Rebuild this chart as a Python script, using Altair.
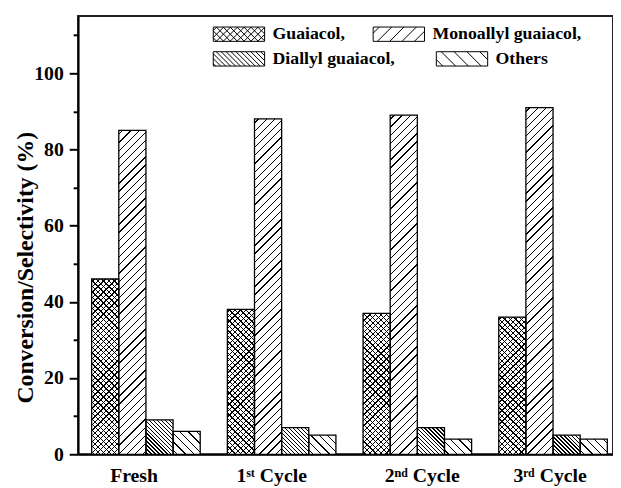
import altair as alt
import pandas as pd

# ---------------- data ----------------
categories = ["Fresh", "1ˢᵗ Cycle", "2ⁿᵈ Cycle", "3ʳᵈ Cycle"]
series_names = ["Guaiacol,", "Monoallyl guaiacol,", "Diallyl guaiacol,", "Others"]
legend_row1 = ["Guaiacol,", "Monoallyl guaiacol,"]
legend_row2 = ["Diallyl guaiacol,", "Others"]
guaiacol = [46, 38, 37, 36]
monoallyl = [85, 88, 89, 91]
diallyl = [9, 7, 7, 5]
others = [6, 5, 4, 4]
y_tick_values = [0, 10, 20, 30, 40, 50, 60, 70, 80, 90, 100, 110]

values = [guaiacol, monoallyl, diallyl, others]
rows = []
for si, s in enumerate(series_names):
    for ci, c in enumerate(categories):
        rows.append({"category": c, "series": s, "value": values[si][ci]})
df = pd.DataFrame(rows)

# ---------------- style ----------------
FONT = "Liberation Serif"
PLOT_W, PLOT_H = 542, 444
Y_MAX = 115
X_SPAN = 550
BAND = X_SPAN / 4
BAR_W = BAND * 0.8 / 4
label_shift = [-12, -10, 5, -3]

# hatch specs: (direction, horizontal period in px)
bar_hatch = {
    "Guaiacol,": [("/", 5.6), ("\\", 5.6)],
    "Monoallyl guaiacol,": [("/", 8.3)],
    "Diallyl guaiacol,": [("\\", 4.0)],
    "Others": [("\\", 8.5)],
}
legend_hatch = {
    "Guaiacol,": [("/", 7.0), ("\\", 7.0)],
    "Monoallyl guaiacol,": [("/", 12.5)],
    "Diallyl guaiacol,": [("\\", 5.0)],
    "Others": [("\\", 13.0)],
}


def stripe_gradient(w, h, period, direction, bg, fg, line=1.3):
    L = w + h
    s = L / (w * w + h * h)
    stops = [{"offset": 0, "color": bg}]
    p = period / 2
    while p - line / 2 < L:
        a = max(0.0, (p - line / 2) / L)
        b = min(1.0, (p + line / 2) / L)
        a, b = round(a, 5), round(b, 5)
        stops += [
            {"offset": a, "color": bg},
            {"offset": a, "color": fg},
            {"offset": b, "color": fg},
            {"offset": b, "color": bg},
        ]
        p += period
    stops.append({"offset": 1, "color": bg})
    if direction == "/":
        x1, y1, x2, y2 = 0, 0, s * w, s * h
    else:
        x1, y1, x2, y2 = 0, 1, s * w, 1 - s * h
    return {"gradient": "linear", "x1": x1, "y1": y1, "x2": x2, "y2": y2, "stops": stops}


def legend_path(specs, hw_px=26.0, hh_px=7.25, unit=7.5):
    hw, hh = hw_px / unit, hh_px / unit
    parts = [f"M{-hw:.3f},{-hh:.3f}H{hw:.3f}V{hh:.3f}H{-hw:.3f}Z"]
    for d, period_px in specs:
        p = period_px / unit
        c = -hw - hh + p / 2
        while c < hw + hh:
            x0 = max(-hw, c - hh)
            x1 = min(hw, c + hh)
            if d == "/":
                parts.append(f"M{x0:.3f},{c - x0:.3f}L{x1:.3f},{c - x1:.3f}")
            else:
                parts.append(f"M{x0:.3f},{x0 - c:.3f}L{x1:.3f},{x1 - c:.3f}")
            c += p
    return "".join(parts)


label_offset = {
    "condition": [
        {"test": f"datum.value == '{c}'", "value": off}
        for c, off in zip(categories, label_shift)
    ],
    "value": 0,
}

x_enc = alt.X(
    "category:N",
    sort=categories,
    scale=alt.Scale(domain=categories, range=[0, X_SPAN], paddingInner=0.2, paddingOuter=0.1),
    axis=alt.Axis(
        title=None,
        ticks=False,
        labelAngle=0,
        labelFont=FONT,
        labelFontSize=20,
        labelFontWeight="bold",
        labelColor="black",
        labelPadding=12,
        labelOffset=label_offset,
        domainColor="black",
        domainWidth=2,
        grid=False,
    ),
)
xo_enc = alt.XOffset(
    "series:N", sort=series_names,
    scale=alt.Scale(domain=series_names, paddingInner=0, paddingOuter=0),
)
y_enc = alt.Y(
    "value:Q",
    scale=alt.Scale(domain=[0, Y_MAX], nice=False, zero=True),
    axis=alt.Axis(
        values=y_tick_values,
        labelExpr="datum.value % 20 == 0 ? datum.label : ''",
        tickSize={"condition": {"test": "datum.value % 20 == 0", "value": 9}, "value": 5},
        tickWidth=2,
        tickColor="black",
        domainColor="black",
        domainWidth=2,
        labelFont=FONT,
        labelFontSize=20,
        labelFontWeight="bold",
        labelColor="black",
        labelPadding=6,
        title="Conversion/Selectivity (%)",
        titleFont=FONT,
        titleFontSize=24,
        titleFontWeight="bold",
        titleColor="black",
        titleAngle=270,
        titleAlign="center",
        titleBaseline="alphabetic",
        titleX=-46.5,
        titleY=254.5,
        grid=False,
    ),
)

base = alt.Chart(df).encode(x=x_enc, xOffset=xo_enc, y=y_enc)

layers = []
for si, s in enumerate(series_names):
    for ci, c in enumerate(categories):
        v = values[si][ci]
        h = v * PLOT_H / Y_MAX
        filt = (alt.datum.category == c) & (alt.datum.series == s)
        specs = bar_hatch[s]
        d0, p0 = specs[0]
        layers.append(
            base.transform_filter(filt).mark_bar(
                fill=stripe_gradient(BAR_W, h, p0, d0, "white", "black"), strokeWidth=0
            )
        )
        for d, p in specs[1:]:
            layers.append(
                base.transform_filter(filt).mark_bar(
                    fill=stripe_gradient(BAR_W, h, p, d, "rgba(255,255,255,0)", "black"),
                    strokeWidth=0,
                )
            )

outline = base.mark_bar(fillOpacity=0, stroke="black", strokeWidth=1.3)
layers.append(outline)


def legend_layer(names, ly, colpad):
    return (
        alt.Chart(df)
        .transform_filter(alt.FieldOneOfPredicate(field="series", oneOf=names))
        .transform_filter("false")
        .mark_point(filled=False)
        .encode(
            x=x_enc,
            y=y_enc,
            shape=alt.Shape(
                "series:N",
                scale=alt.Scale(domain=names, range=[legend_path(legend_hatch[n]) for n in names]),
                legend=alt.Legend(
                    title=None,
                    orient="none",
                    direction="horizontal",
                    legendX=154,
                    legendY=ly,
                    symbolSize=225,
                    symbolFillColor="white",
                    symbolStrokeColor="black",
                    symbolStrokeWidth=1,
                    symbolOpacity=1,
                    labelFont=FONT,
                    labelFontSize=18,
                    labelFontWeight="bold",
                    labelColor="black",
                    labelOffset=25,
                    labelLimit=400,
                    columnPadding=colpad,
                    padding=0,
                ),
            ),
        )
    )


layers.append(legend_layer(legend_row1, 9, 25))
layers.append(legend_layer(legend_row2, 34, 38))

chart = (
    alt.layer(*layers)
    .resolve_scale(shape="independent")
    .resolve_legend(shape="independent")
    .properties(
        width=PLOT_W,
        height=PLOT_H,
        autosize=alt.AutoSizeParams(type="none"),
        padding={"left": 71, "top": 5, "right": 0, "bottom": 31},
        background="white",
    )
    .configure_view(stroke="#222222", strokeWidth=2)
)

chart.save("out.html", embed_options={"renderer": "svg", "actions": False})
